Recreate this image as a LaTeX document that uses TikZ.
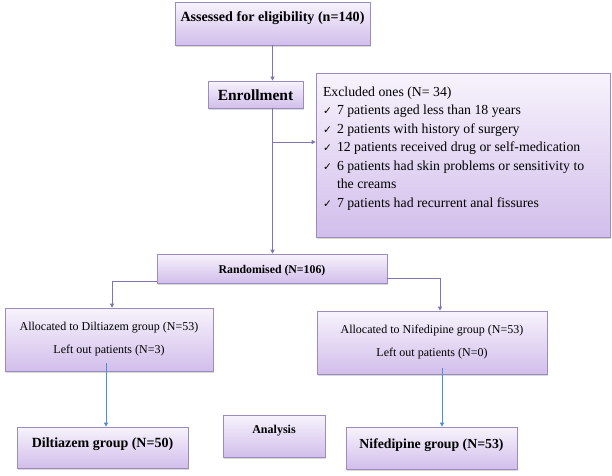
\documentclass[tikz,border=0pt]{standalone}
\usepackage{fontspec}
\setmainfont{Liberation Serif}
\newfontfamily\symfont{DejaVu Sans}
\usetikzlibrary{arrows.meta, shadows, calc}

\definecolor{boxtop}{HTML}{F7F3FC}
\definecolor{boxbot}{HTML}{D2BEEB}
\definecolor{boxline}{HTML}{9A8DBE}
\definecolor{flowline}{HTML}{8273AE}
\definecolor{blueline}{HTML}{4F8FD0}
\newcommand{\tick}{\makebox[14pt][l]{\symfont\fontsize{10.5}{10}\selectfont ✓}}

\begin{document}
\begin{tikzpicture}[x=1pt, y=-1pt,
    box/.style={rectangle, draw=boxline, line width=0.7pt, top color=boxtop, bottom color=boxbot, inner sep=0pt, align=center,
        drop shadow={shadow xshift=1.2pt, shadow yshift=-1.5pt, opacity=0.3}},
    head/.style={font=\fontsize{14}{16}\selectfont\bfseries},
    small/.style={font=\fontsize{12}{23}\selectfont},
    flow/.style={draw=flowline, line width=0.8pt, -{Triangle[length=4pt,width=4pt]}},
    blueflow/.style={draw=blueline, line width=0.8pt, -{Triangle[length=4pt,width=4pt]}}
]
\useasboundingbox (0,0) rectangle (612,475);

% Boxes
\node[box, font=\fontsize{14.1}{16}\selectfont\bfseries, minimum width=195pt, text height=19pt, text depth=24pt] (assess) at (272.5,23.5) {Assessed for eligibility (n=140)};
\node[box, font=\fontsize{15.5}{17}\selectfont\bfseries, minimum width=95pt, text height=19pt, text depth=8pt] (enroll) at (255.5,94.5) {Enrollment};
\node[box, inner xsep=7pt, font=\fontsize{13.8}{18.5}\selectfont] (excl) at (463,155) {\parbox[c][164pt][t]{280pt}{\raggedright
    \rule{0pt}{23pt}Excluded ones (N= 34)\\
    \tick 7 patients aged less than 18 years\\
    \tick 2 patients with history of surgery\\
    \tick 12 patients received drug or self-medication\\
    \tick 6 patients had skin problems or sensitivity to\\
    \hspace*{14pt}the creams\\
    \tick 7 patients had recurrent anal fissures}};
\node[box, font=\fontsize{11.8}{13}\selectfont\bfseries, minimum width=230pt, text height=19pt, text depth=10pt] (rand) at (272,268.5) {Randomised (N=106)};

\node[box, small, minimum width=208pt, minimum height=63pt] (alloc1) at (109,339.5) {Allocated to Diltiazem group (N=53)\\Left out patients (N=3)};
\node[box, small, minimum width=230pt, minimum height=63pt] (alloc2) at (432,342.5) {Allocated to Nifedipine group (N=53)\\Left out patients (N=0)};

\node[box, head, minimum width=171pt, text height=20pt, text depth=21pt] (grp1) at (102.5,447.5) {Diltiazem group (N=50)};
\node[box, font=\fontsize{12}{14}\selectfont\bfseries, minimum width=102pt, text height=18pt, text depth=24pt] (analysis) at (274,436) {Analysis};
\node[box, font=\fontsize{13.8}{16}\selectfont\bfseries, minimum width=171pt, text height=21pt, text depth=21pt] (grp2) at (431.5,448) {Nifedipine group (N=53)};

% Connectors
\coordinate (split) at (272,142);
\draw[flow] (assess.south) -- (assess.south |- enroll.north);
\draw[flow] (assess.south |- enroll.south) -- (assess.south |- rand.north);
\draw[flow] (split) -- (split -| excl.west);
\draw[flow] ([yshift=2pt]rand.south west) -| ([xshift=3pt]alloc1.north);
\draw[flow] ([yshift=5pt]rand.south east) -| ([xshift=8pt]alloc2.north);

\coordinate (d1) at ([xshift=3.5pt]grp1.north);
\coordinate (d2) at ([xshift=10.5pt]grp2.north);
\draw[blueflow] ($(d1 |- alloc1.south)+(0,-8)$) -- (d1);
\draw[blueflow] ($(d2 |- alloc2.south)+(0,-6)$) -- (d2);

\end{tikzpicture}
\end{document}
